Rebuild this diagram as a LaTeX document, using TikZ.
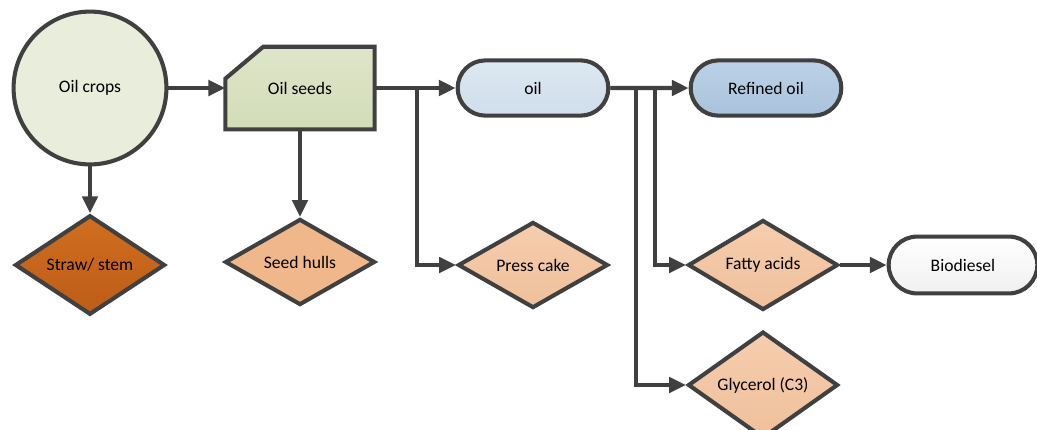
\documentclass[tikz,border=0pt]{standalone}
\usepackage{fontspec}
\setmainfont{Carlito}
\usepackage{tikz}
\usetikzlibrary{shapes.geometric,shapes.misc,arrows.meta,calc}
\usepackage{xcolor}
\definecolor{edge}{HTML}{404040}
\definecolor{crop}{HTML}{E9EDDC}
\definecolor{seedtop}{HTML}{DEE5C9}
\definecolor{seedbot}{HTML}{D3DCB8}
\definecolor{oiltop}{HTML}{DDE8F2}
\definecolor{oilbot}{HTML}{CFDEEB}
\definecolor{reftop}{HTML}{BCD1E6}
\definecolor{refbot}{HTML}{A9C3DC}
\definecolor{strawtop}{HTML}{D06E20}
\definecolor{strawbot}{HTML}{BD5C17}
\definecolor{hull}{HTML}{F0B88A}
\definecolor{cake}{HTML}{F5CDAE}
\definecolor{cakebot}{HTML}{F0C09B}

\begin{document}
\begin{tikzpicture}[x=0.025cm,y=-0.025cm,
  box/.style={draw=edge,line width=2.9pt,font=\fontsize{12.5}{15}\selectfont,align=center},
  dia/.style={box,diamond,minimum width=3.75cm,minimum height=2.15cm,inner sep=0pt},
  pill/.style={box,rounded rectangle,minimum width=4cm,minimum height=1.38cm},
  arr/.style={draw=edge,line width=2.9pt,-{Triangle[length=0.42cm,width=0.38cm]}}]

\useasboundingbox (0,0) rectangle (1037,429);

% top row
\node[box,circle,minimum size=3.82cm,fill=crop] (crops) at (90,88) {Oil crops};
\node[minimum width=3.72cm,minimum height=2.05cm,inner sep=0pt] (seeds) at (300,88) {};
\draw[box,top color=seedtop,bottom color=seedbot] (seeds.south west) -- (seeds.south east)
  -- (seeds.north east) -- ($(seeds.north west)+(38,0)$) -- ($(seeds.north west)+(0,32)$) -- cycle;
\node[font=\fontsize{12.5}{15}\selectfont] at (seeds) {Oil seeds};
\node[pill,top color=oiltop,bottom color=oilbot] (oil) at (533,88) {oil};
\node[pill,top color=reftop,bottom color=refbot] (refined) at (766,88) {Refined oil};

% products
\node[dia,top color=strawtop,bottom color=strawbot] (straw) at (90,265) {Straw/ stem};
\node[dia,fill=hull] (hulls) at (300,262) {Seed hulls};
\foreach \n/\x/\y/\t in {cake/533/265/Press cake, fatty/763/265/Fatty acids, glycerol/763/385/Glycerol (C3)}
  \node[dia,top color=cake,bottom color=cakebot] (\n) at (\x,\y) {\t};
\node[pill,minimum width=3.95cm,minimum height=1.42cm,top color=white,bottom color=gray!12] (biodiesel) at (963,265) {Biodiesel};

% branch points
\coordinate (b1) at (417,88);
\coordinate (b2) at (636,88);
\coordinate (b3) at (655,88);

\draw[arr] (crops) -- (seeds);
\draw[arr] (crops) -- (straw);
\draw[arr] (seeds) -- (hulls);
\draw[arr] (seeds) -- (oil);
\draw[arr] (b1) |- (cake);
\draw[arr] (oil) -- (refined);
\draw[arr] (b2) |- (glycerol);
\draw[arr] (b3) |- (fatty);
\draw[arr] (fatty) -- (biodiesel);

\end{tikzpicture}
\end{document}
